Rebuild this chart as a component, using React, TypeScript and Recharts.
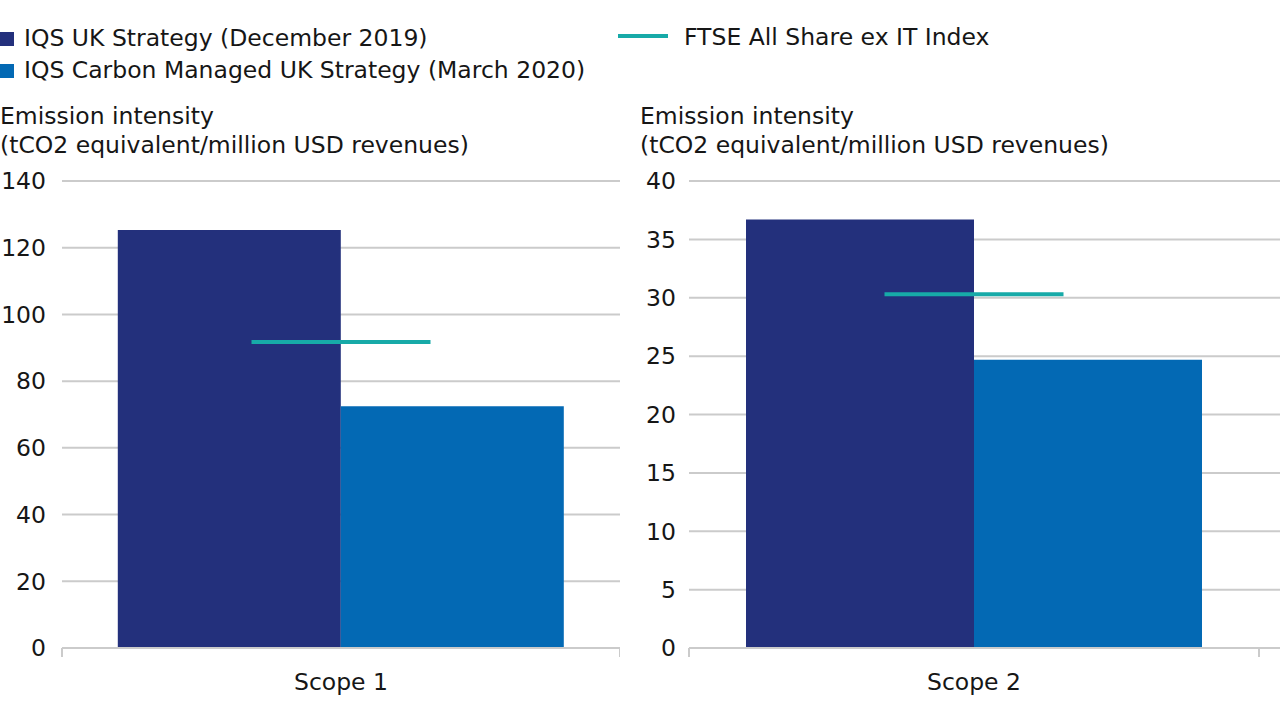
import React from "react";
import {
  ComposedChart,
  Bar,
  Scatter,
  XAxis,
  YAxis,
  CartesianGrid,
} from "recharts";

const categories = ["Scope 1", "Scope 2"];
const iqsUK = [125.3, 36.7];
const iqsCarbon = [72.5, 24.7];
const ftseIndex = [91.7, 30.3];
const scope1Ticks = [0, 20, 40, 60, 80, 100, 120, 140];
const scope2Ticks = [0, 5, 10, 15, 20, 25, 30, 35, 40];

const seriesNames = [
  "IQS UK Strategy (December 2019)",
  "IQS Carbon Managed UK Strategy (March 2020)",
  "FTSE All Share ex IT Index",
];
const axisTitle = ["Emission intensity", "(tCO2 equivalent/million USD revenues)"];

const DARK = "#23307c";
const LIGHT = "#0369b4";
const TEAL = "#17aaa8";
const GRID = "#cbcbcb";
const TEXT = "#161616";
const FONT = "'DejaVu Sans', sans-serif";
const FS = 23.5;

const rows = categories.map((c, i) => ({
  name: c,
  uk: iqsUK[i],
  carbon: iqsCarbon[i],
  ftse: ftseIndex[i],
}));

const IndexMark = (props: any) => {
  const { cx, cy } = props;
  if (cx == null || cy == null) return null;
  return (
    <line x1={cx - 89.5} x2={cx + 89.5} y1={cy} y2={cy} stroke={TEAL} strokeWidth={4} />
  );
};

const makeTick = (padRight: number) => (props: any) => {
  const { x, y, payload, width } = props;
  const half = (width - padRight) / 2;
  return (
    <g>
      <line x1={x - half} x2={x - half} y1={y} y2={y + 9} stroke={GRID} strokeWidth={2} />
      <line x1={x + half} x2={x + half} y1={y} y2={y + 9} stroke={GRID} strokeWidth={2} />
      <text
        x={x}
        y={y + 34}
        textAnchor="middle"
        dominantBaseline="central"
        fill={TEXT}
        fontSize={FS}
        fontFamily={FONT}
      >
        {payload.value}
      </text>
    </g>
  );
};

type PanelProps = {
  data: any[];
  ticks: number[];
  max: number;
  left: number;
  width: number;
  yWidth: number;
  tickMargin: number;
  padRight: number;
};

const Panel = ({ data, ticks, max, left, width, yWidth, tickMargin, padRight }: PanelProps) => (
  <div style={{ position: "absolute", left, top: 0 }}>
    <ComposedChart
      width={width}
      height={720}
      data={data}
      margin={{ top: 181, right: 0, bottom: 0, left: 0 }}
      barCategoryGap="10%"
      barGap={0}
    >
      <CartesianGrid vertical={false} stroke={GRID} strokeWidth={2} />
      <XAxis
        dataKey="name"
        axisLine={{ stroke: GRID, strokeWidth: 2 }}
        tickLine={false}
        tickSize={0}
        tickMargin={0}
        height={72}
        padding={{ left: 0, right: padRight }}
        tick={makeTick(padRight)}
        interval={0}
      />
      <YAxis
        domain={[0, max]}
        ticks={ticks}
        width={yWidth}
        axisLine={false}
        tickLine={false}
        tickSize={0}
        tickMargin={tickMargin}
        tick={{ fill: TEXT, fontSize: FS, fontFamily: FONT }}
        interval={0}
      />
      <Bar dataKey="uk" fill={DARK} isAnimationActive={false} />
      <Bar dataKey="carbon" fill={LIGHT} isAnimationActive={false} />
      <Scatter dataKey="ftse" shape={IndexMark} isAnimationActive={false} />
    </ComposedChart>
  </div>
);

const textStyle: React.CSSProperties = {
  position: "absolute",
  fontFamily: FONT,
  fontSize: FS,
  color: TEXT,
  whiteSpace: "nowrap",
  lineHeight: "29px",
};

export default function App() {
  return (
    <div
      style={{
        position: "absolute",
        left: 0,
        top: 0,
        width: 1280,
        height: 720,
        overflow: "hidden",
        background: "#ffffff",
      }}
    >
      {/* Legend */}
      <div style={{ position: "absolute", left: 0, top: 32, width: 14, height: 14, background: DARK }} />
      <div style={{ ...textStyle, left: 24, top: 38 - 14.5 }}>{seriesNames[0]}</div>
      <div style={{ position: "absolute", left: 0, top: 64, width: 14, height: 14, background: LIGHT }} />
      <div style={{ ...textStyle, left: 24, top: 70 - 14.5 }}>{seriesNames[1]}</div>
      <div style={{ position: "absolute", left: 618, top: 34, width: 50, height: 4, background: TEAL }} />
      <div style={{ ...textStyle, left: 684, top: 37 - 14.5 }}>{seriesNames[2]}</div>

      {/* Axis titles */}
      <div style={{ ...textStyle, left: 0, top: 102 }}>
        {axisTitle[0]}
        <br />
        {axisTitle[1]}
      </div>
      <div style={{ ...textStyle, left: 640, top: 102 }}>
        {axisTitle[0]}
        <br />
        {axisTitle[1]}
      </div>

      <Panel
        data={[rows[0]]}
        ticks={scope1Ticks}
        max={140}
        left={0}
        width={620}
        yWidth={62}
        tickMargin={16}
        padRight={0}
      />
      <Panel
        data={[rows[1]]}
        ticks={scope2Ticks}
        max={40}
        left={640}
        width={640}
        yWidth={49}
        tickMargin={13}
        padRight={21}
      />
    </div>
  );
}
